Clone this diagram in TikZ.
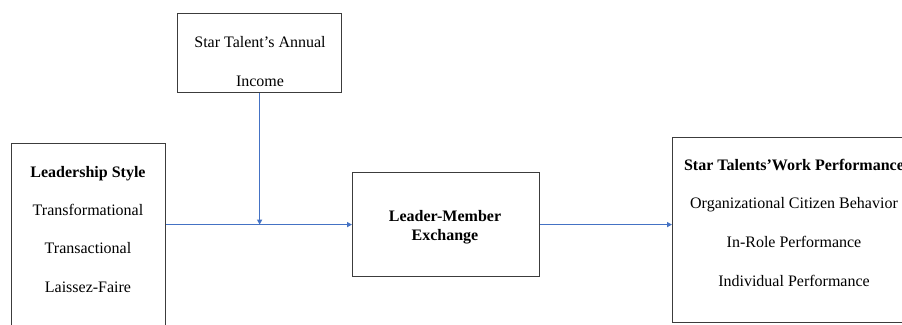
\documentclass[tikz,border=0pt]{standalone}
\usepackage{fontspec}
\setmainfont{Liberation Serif}
\usetikzlibrary{arrows.meta}
\definecolor{arrowblue}{RGB}{68,114,196}
\definecolor{boxgray}{RGB}{60,60,60}
\begin{document}
\begin{tikzpicture}[x=1pt,y=-1pt,
  box/.style={draw=boxgray,line width=1.2pt,inner sep=0pt,anchor=north west,fill=white},
  txt/.style={anchor=base,inner sep=0pt,font=\fontsize{16}{19}\selectfont},
  btxt/.style={txt,font=\fontsize{16}{19}\selectfont\bfseries},
  conn/.style={draw=arrowblue,line width=1.6pt,-{Triangle[length=5pt,width=5pt]}}]
\useasboundingbox (0,0) rectangle (902,324);
\clip (0,0) rectangle (902,324);
% boxes
\node[box,minimum width=154pt,minimum height=200pt] (ls) at (11,143) {};
\node[box,minimum width=164pt,minimum height=79pt] (inc) at (177,13) {};
\node[box,minimum width=187pt,minimum height=104pt] (lmx) at (352,172) {};
\node[box,minimum width=244pt,minimum height=185pt] (pf) at (672,137) {};
% texts
\node[btxt] (ls1) at (88,177) {Leadership Style};
\node[txt] (ls2) at (88,215) {Transformational};
\node[txt] (ls3) at (88,253) {Transactional};
\node[txt] (ls4) at (88,292) {Laissez-Faire};
\node[txt] (inc1) at (260,47) {Star Talent’s Annual};
\node[txt] (inc2) at (260,86) {Income};
\node[btxt] (lmx1) at (445,221) {Leader-Member};
\node[btxt] (lmx2) at (445,240) {Exchange};
\node[btxt] (pf1) at (794,170) {Star Talents’Work Performance};
\node[txt] (pf2) at (794,208) {Organizational Citizen Behavior};
\node[txt] (pf3) at (794,247) {In-Role Performance};
\node[txt] (pf4) at (794,286) {Individual Performance};
% connectors
\draw[conn] (lmx.west -| ls.east) -- (lmx.west);
\draw[conn] (inc.south) -- (inc.south |- lmx.west);
\draw[conn] (lmx.east) -- (lmx.east -| pf.west);
\end{tikzpicture}
\end{document}
